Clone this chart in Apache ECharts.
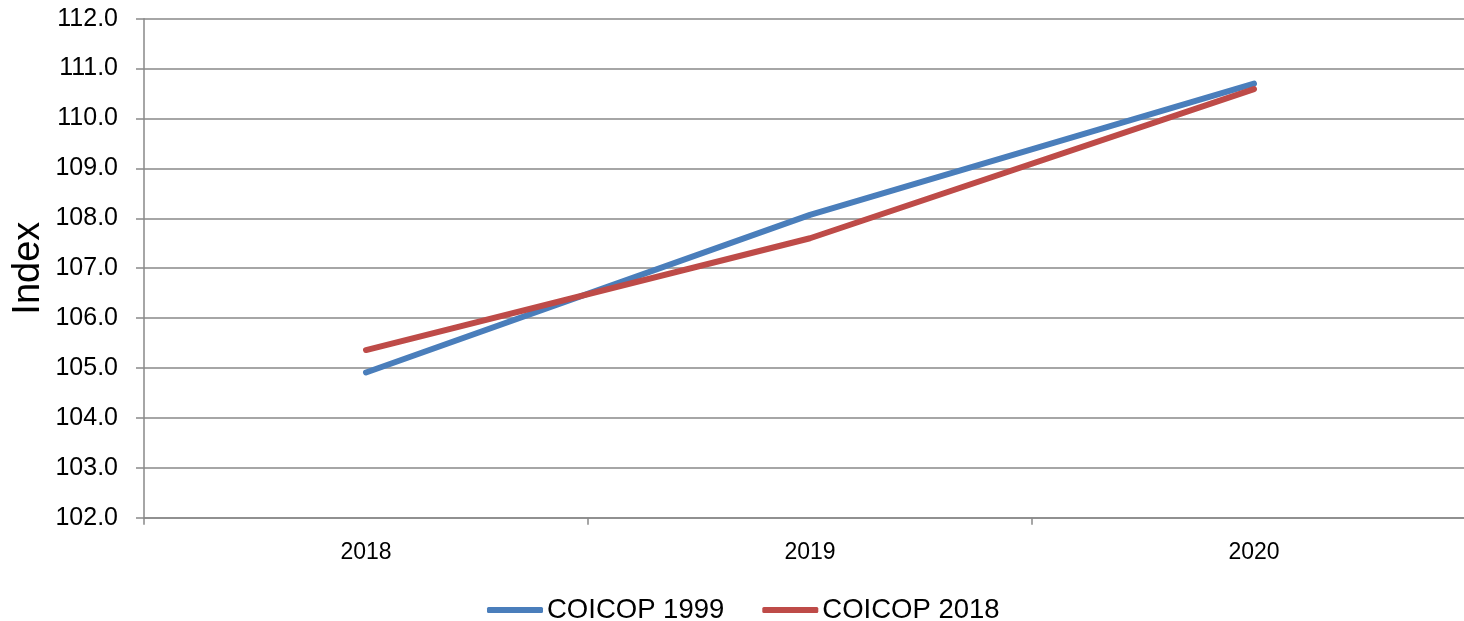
<!DOCTYPE html>
<html>
<head>
<meta charset="utf-8">
<script src="https://cdn.jsdelivr.net/npm/echarts@6/dist/echarts.min.js"></script>
<style>
  html, body { margin: 0; padding: 0; background: #fff; }
  #chart { width: 1464px; height: 621px; }
</style>
</head>
<body>
<div id="chart"></div>
<script>
// Index values by year for the two classifications
const years = ['2018', '2019', '2020'];
const coicop1999 = [104.91, 108.07, 110.70];
const coicop2018 = [105.36, 107.60, 110.59];
const seriesNames = ['COICOP 1999', 'COICOP 2018'];
const yAxisTitle = 'Index';

const FONT = '"Liberation Sans", Arial, sans-serif';
const AXIS_GREY = '#898989';

const chart = echarts.init(document.getElementById('chart'), null, { renderer: 'canvas' });

chart.setOption({
  animation: false,
  backgroundColor: '#ffffff',
  grid: { left: 144, top: 18.7, width: 1332, height: 499, containLabel: false, outerBoundsMode: 'none' },
  legend: {
    data: seriesNames,
    left: 482,
    top: 590,
    icon: 'roundRect',
    itemWidth: 56,
    itemHeight: 6,
    itemGap: 38,
    textStyle: { fontFamily: FONT, fontSize: 27.5, color: '#000', lineHeight: 30, padding: [0, 0, 0, -1] }
  },
  xAxis: {
    type: 'category',
    data: years,
    boundaryGap: true,
    axisLine: { lineStyle: { color: AXIS_GREY, width: 1.5 } },
    axisTick: { show: true, length: 7, alignWithLabel: false, lineStyle: { color: AXIS_GREY, width: 1.5 } },
    axisLabel: { fontFamily: FONT, fontSize: 23, color: '#000', margin: 23 },
    splitLine: { show: false }
  },
  yAxis: {
    type: 'value',
    min: 102,
    max: 112,
    interval: 1,
    name: yAxisTitle,
    nameLocation: 'middle',
    nameGap: 96,
    nameMoveOverlap: false,
    nameRotate: 90,
    nameTextStyle: { fontFamily: FONT, fontSize: 38, color: '#000' },
    axisLine: { show: true, lineStyle: { color: AXIS_GREY, width: 1.5 } },
    axisTick: { show: true, length: 8, lineStyle: { color: AXIS_GREY, width: 1.5 } },
    axisLabel: {
      fontFamily: FONT, fontSize: 25, color: '#000', margin: 26,
      formatter: v => v.toFixed(1)
    },
    splitLine: { show: true, lineStyle: { color: AXIS_GREY, width: 1.5 } }
  },
  series: [
    {
      name: seriesNames[0],
      type: 'line',
      data: coicop1999,
      symbol: 'none',
      color: '#4A7EBB',
      lineStyle: { width: 6, color: '#4A7EBB', cap: 'round' },
      z: 3
    },
    {
      name: seriesNames[1],
      type: 'line',
      data: coicop2018,
      symbol: 'none',
      color: '#BE4B48',
      lineStyle: { width: 6, color: '#BE4B48', cap: 'round' },
      z: 4
    }
  ]
});
</script>
</body>
</html>
